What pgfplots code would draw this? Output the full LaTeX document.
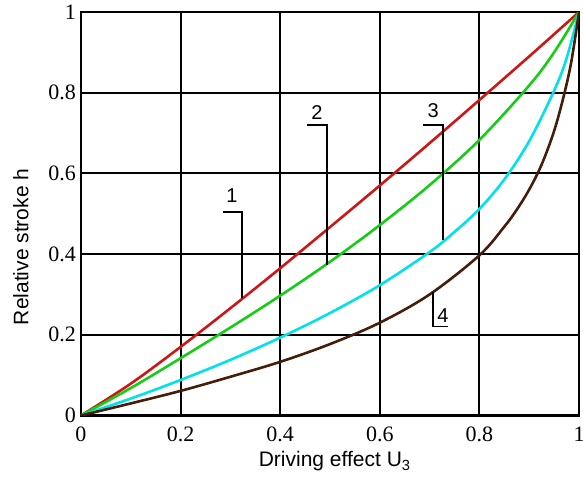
\documentclass[border=0pt]{standalone}
\usepackage{fontspec}
\setmainfont{Liberation Serif}
\newfontfamily\lsans{Liberation Sans}
\usepackage{pgfplots}
\pgfplotsset{compat=1.18}
\definecolor{cred}{RGB}{205,22,22}
\definecolor{cgreen}{RGB}{22,205,22}
\definecolor{ccyan}{RGB}{0,225,235}
\definecolor{cbrown}{RGB}{70,28,10}
\begin{document}
\begin{tikzpicture}
\begin{axis}[
    scale only axis,
    width=249pt, height=201.75pt,
    xmin=0, xmax=1, ymin=0, ymax=1,
    xtick={0,0.2,0.4,0.6,0.8,1},
    ytick={0,0.2,0.4,0.6,0.8,1},
    xticklabels={0,0.2,0.4,0.6,0.8,1},
    yticklabels={0,0.2,0.4,0.6,0.8,1},
    major tick length=0pt,
    grid=major,
    grid style={black, line width=1pt},
    axis line style={black, line width=1.1pt},
    /pgf/number format/assume math mode=true,
    tick label style={font=\fontsize{11}{13}\selectfont},
    xticklabel style={yshift=-2pt},
    yticklabel style={xshift=1pt},
    xlabel={Driving effect U\textsubscript{3}},
    ylabel={Relative stroke h},
    label style={font=\lsans\fontsize{10.5}{12}\selectfont},
    xlabel style={at={(axis description cs:0.51,-0.114)}, anchor=center},
    ylabel style={at={(axis description cs:-0.1205,0.418)}, anchor=center},
    every axis plot/.append style={line width=1.3pt, smooth, tension=0.55, no marks},
]
\coordinate (ll) at (rel axis cs:0,0);
\coordinate (ur) at (rel axis cs:1,1);

% 1
\addplot[cred] coordinates {
  (0,0)(0.1,0.079)(0.2,0.170)(0.3,0.266)(0.4,0.365)(0.5,0.467)
  (0.6,0.570)(0.7,0.675)(0.8,0.782)(0.9,0.890)(1,1)
};
% 2
\addplot[cgreen] coordinates {
  (0,0)(0.1,0.068)(0.2,0.142)(0.3,0.218)(0.4,0.297)(0.5,0.381)
  (0.6,0.472)(0.7,0.571)(0.8,0.683)(0.9,0.818)(0.95,0.900)(1,1)
};
% 3
\addplot[ccyan] coordinates {
  (0,0)(0.1,0.042)(0.2,0.088)(0.3,0.138)(0.4,0.193)(0.5,0.254)
  (0.6,0.323)(0.7,0.405)(0.75,0.455)(0.8,0.512)(0.85,0.585)(0.9,0.680)
  (0.95,0.805)(0.975,0.885)(1,1)
};
% 4
\addplot[cbrown] coordinates {
  (0,0)(0.1,0.030)(0.2,0.061)(0.3,0.096)(0.4,0.133)(0.5,0.177)
  (0.6,0.230)(0.7,0.300)(0.8,0.397)(0.85,0.468)(0.875,0.510)(0.9,0.560)
  (0.925,0.622)(0.95,0.705)(0.97,0.795)(0.985,0.880)(1,1)
};

% curve labels with leaders
\draw[black, line width=0.7pt] (0.285,0.504) -- (0.323,0.504) -- (0.323,0.292);
\node[font=\lsans\fontsize{10}{12}\selectfont] at (0.303,0.545) {1};
\draw[black, line width=0.7pt] (0.454,0.72) -- (0.494,0.72) -- (0.494,0.373);
\node[font=\lsans\fontsize{10}{12}\selectfont] at (0.474,0.752) {2};
\draw[black, line width=0.7pt] (0.687,0.72) -- (0.727,0.72) -- (0.727,0.434);
\node[font=\lsans\fontsize{10}{12}\selectfont] at (0.707,0.755) {3};
\draw[black, line width=0.7pt] (0.707,0.307) -- (0.707,0.22) -- (0.737,0.22);
\node[font=\lsans\fontsize{10}{12}\selectfont] at (0.727,0.248) {4};
\end{axis}
\pgfresetboundingbox
\path ([shift={(-40.5pt,-31.25pt)}]ll) rectangle ([shift={(2pt,6pt)}]ur);
\end{tikzpicture}
\end{document}
